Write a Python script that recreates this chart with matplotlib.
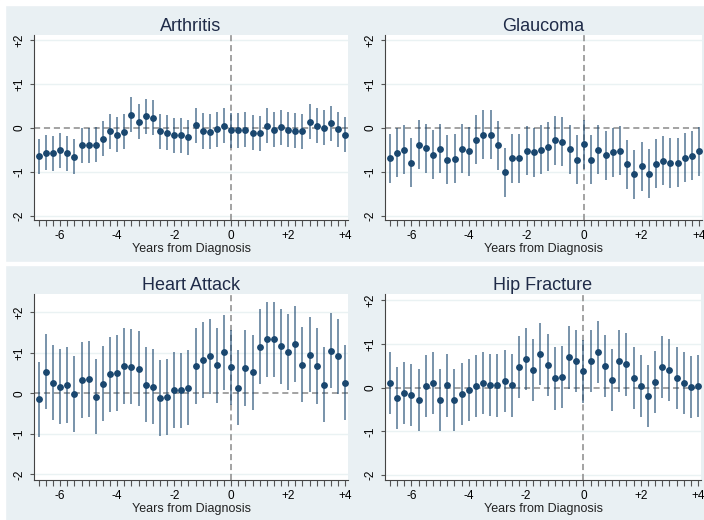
import numpy as np
import matplotlib.pyplot as plt
from matplotlib.patches import Rectangle

plt.rcParams['font.family'] = ['Liberation Sans', 'DejaVu Sans']

# quarters relative to diagnosis
years = np.arange(-6.75, 4.01, 0.25)

arthritis = [-0.65, -0.57, -0.58, -0.51, -0.58, -0.66, -0.40, -0.40, -0.38, -0.25,
             -0.08, -0.16, -0.09, 0.30, 0.14, 0.27, 0.23, -0.08, -0.11, -0.17,
             -0.17, -0.21, 0.06, -0.07, -0.09, -0.03, 0.05, -0.05, -0.05, -0.04,
             -0.11, -0.12, 0.05, -0.04, 0.02, -0.04, -0.06, -0.08, 0.14, 0.05,
             0.01, 0.11, -0.03, -0.15]
glaucoma = [-0.69, -0.57, -0.50, -0.79, -0.38, -0.46, -0.61, -0.47, -0.73, -0.70,
            -0.47, -0.53, -0.27, -0.15, -0.15, -0.40, -1.01, -0.69, -0.69, -0.52,
            -0.55, -0.50, -0.43, -0.28, -0.31, -0.49, -0.72, -0.37, -0.73, -0.50,
            -0.62, -0.56, -0.52, -0.83, -1.06, -0.87, -1.04, -0.82, -0.75, -0.80,
            -0.79, -0.68, -0.63, -0.53]
heart_attack = [-0.15, 0.53, 0.26, 0.16, 0.20, -0.02, 0.33, 0.35, -0.08, 0.24,
                0.47, 0.50, 0.67, 0.66, 0.61, 0.21, 0.16, -0.12, -0.09, 0.08,
                0.07, 0.14, 0.67, 0.82, 0.91, 0.69, 1.01, 0.64, 0.14, 0.62,
                0.52, 1.15, 1.33, 1.33, 1.16, 1.02, 1.22, 0.71, 0.95, 0.67,
                0.21, 1.05, 0.91, 0.26]
hip_fracture = [0.10, -0.24, -0.13, -0.16, -0.29, 0.04, 0.10, -0.29, 0.05, -0.28,
                -0.15, -0.06, 0.04, 0.11, 0.07, 0.05, 0.15, 0.05, 0.47, 0.65,
                0.41, 0.76, 0.52, 0.21, 0.24, 0.69, 0.61, 0.37, 0.60, 0.82,
                0.50, 0.18, 0.60, 0.53, 0.22, 0.04, -0.20, 0.13, 0.47, 0.40,
                0.23, 0.11, 0.02, 0.04]

# 95% CI half widths (roughly constant per panel)
ci_half = {'Arthritis': 0.40, 'Glaucoma': 0.56, 'Heart Attack': 0.93, 'Hip Fracture': 0.71}

panels = [
    ('Arthritis', arthritis, (34, 35, 348, 220), (-2.1, 2.12)),
    ('Glaucoma', glaucoma, (385, 35, 702, 220), (-2.1, 2.12)),
    ('Heart Attack', heart_attack, (34, 294, 348, 480), (-2.14, 2.45)),
    ('Hip Fracture', hip_fracture, (385, 294, 701, 480), (-2.11, 2.14)),
]

W, H = 704, 520
bg = '#e9f0f3'
navy = '#1a476f'
fig = plt.figure(figsize=(W / 100, H / 100), dpi=100, facecolor=bg)

# white borders between the combined graphs
for x0, y0, w, h in [(0, 0, W, 5), (0, 0, 5, H), (0, 262, W, 3)]:
    fig.patches.append(Rectangle((x0 / W, 1 - (y0 + h) / H), w / W, h / H,
                                 transform=fig.transFigure, color='white', zorder=0))

for name, vals, (l, t, r, b), ylim in panels:
    ax = fig.add_axes([l / W, 1 - b / H, (r - l) / W, (b - t) / H])
    ax.set_facecolor('white')
    vals = np.array(vals)
    hw = ci_half[name]
    ax.vlines(years, vals - hw, vals + hw, color=navy, lw=1.1, alpha=0.75, zorder=3)
    ax.plot(years, vals, 'o', color=navy, ms=3.9, zorder=4)
    ax.axhline(0, color='#8a8a8a', ls=(0, (4, 2.5)), lw=1.1, zorder=2)
    ax.axvline(0, color='#8a8a8a', ls=(0, (4, 2.5)), lw=1.1, zorder=2)
    for gy in [-2, -1, 1, 2]:
        ax.axhline(gy, color='#eaf2f3', lw=1, zorder=1)
    ax.set_xlim(-6.92, 4.1)
    ax.set_ylim(*ylim)
    ax.set_xticks([-6, -4, -2, 0, 2, 4])
    ax.set_xticklabels(['-6', '-4', '-2', '0', '+2', '+4'])
    ax.set_xticks(years, minor=True)
    ax.set_yticks([-2, -1, 0, 1, 2])
    ax.set_yticklabels(['-2', '-1', '0', '+1', '+2'], rotation=90, va='center')
    ax.tick_params(axis='x', which='both', length=4, width=0.8, color='#555555',
                   labelsize=8.5, pad=3)
    ax.tick_params(axis='y', length=3, width=0.8, color='#555555', labelsize=8.5, pad=3)
    for s in ['top', 'right']:
        ax.spines[s].set_visible(False)
    for s in ['left', 'bottom']:
        ax.spines[s].set_color('#444444')
        ax.spines[s].set_linewidth(0.8)
    ax.set_xlabel('Years from Diagnosis', fontsize=9, labelpad=1, color='#222222')
    ax.set_title(name, fontsize=13, color='#1f2b48', pad=3)

fig.savefig('out.png', dpi=100, facecolor=bg)
